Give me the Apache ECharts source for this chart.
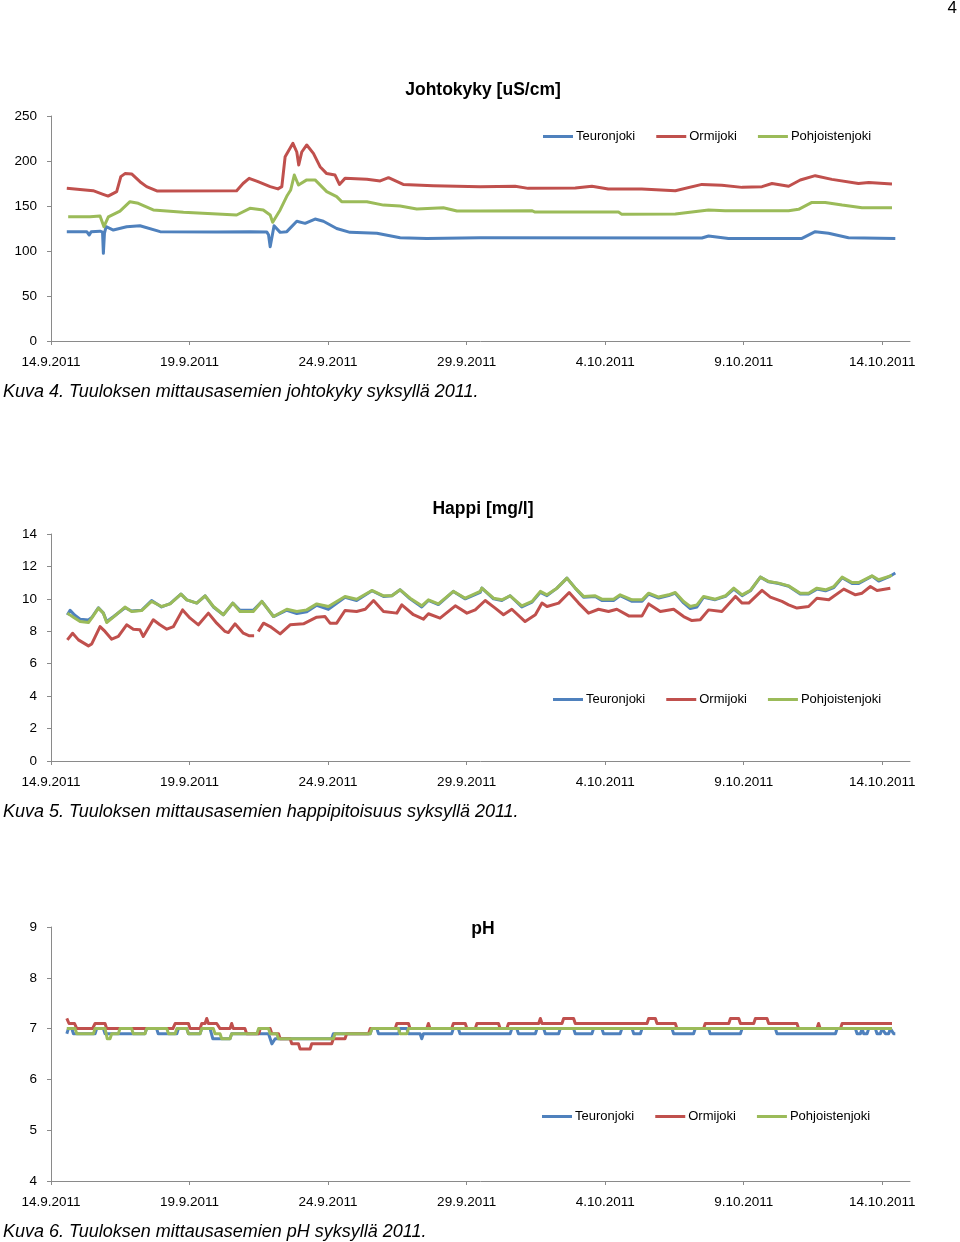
<!DOCTYPE html>
<html>
<head>
<meta charset="utf-8">
<script src="https://cdn.jsdelivr.net/npm/echarts@6/dist/echarts.min.js"></script>
<style>
html,body{margin:0;padding:0;background:#fff;}
#c{width:960px;height:1242px;}
</style>
</head>
<body>
<div id="c"></div>
<script>
// ---- Data (x = days since 14.9.2011 00:00) ----
const tickDays = [0, 5, 10, 15, 20, 25, 30];
const tickLabels = ['14.9.2011', '19.9.2011', '24.9.2011', '29.9.2011', '4.10.2011', '9.10.2011', '14.10.2011'];
const seriesNames = ['Teuronjoki', 'Ormijoki', 'Pohjoistenjoki'];
const titles = ['Johtokyky [uS/cm]', 'Happi [mg/l]', 'pH'];
const captions = [
  'Kuva 4. Tuuloksen mittausasemien johtokyky syksyllä 2011.',
  'Kuva 5. Tuuloksen mittausasemien happipitoisuus syksyllä 2011.',
  'Kuva 6. Tuuloksen mittausasemien pH syksyllä 2011.'
];

// Johtokyky [uS/cm]
const condTeuronjoki = [[0.57,121.5],[1.29,121.5],[1.38,117.8],[1.45,121.5],[1.77,122],[1.86,121],[1.89,97.4],[1.93,120],[1.99,127],[2.25,123.3],[2.73,127],[3.21,128],[3.94,121.5],[5.98,121],[7.18,121.5],[7.79,121],[7.85,118],[7.91,104.8],[8.05,128],[8.27,120.7],[8.51,121.5],[8.87,133],[9.17,130.7],[9.53,135.5],[9.83,133],[10.31,125],[10.79,120.7],[11.76,119.7],[12.60,114.8],[13.56,114],[15.49,114.8],[23.49,114.5],[23.73,116.7],[24.45,114],[27.10,114],[27.58,121.5],[28.06,119.7],[28.78,114.8],[30.47,114]];
const condOrmijoki = [[0.57,169.7],[1.52,167],[1.88,163],[2.06,161],[2.37,166],[2.52,182.6],[2.67,186],[2.91,185.6],[3.21,177],[3.45,171.5],[3.82,166.7],[6.70,167],[6.93,175],[7.15,180.7],[7.47,177],[7.91,171.5],[8.19,169],[8.33,171.5],[8.45,204.8],[8.73,219.6],[8.87,210],[8.94,195.6],[9.05,210],[9.23,217.8],[9.47,208.5],[9.71,193.7],[9.95,186],[10.25,184.4],[10.41,174],[10.61,180.7],[11.40,179.6],[11.88,177.8],[12.18,181.5],[12.71,174],[13.79,172.6],[15.49,171.5],[16.75,172],[17.22,169.6],[18.92,170],[19.52,172],[20.11,169],[21.32,169],[22.53,167],[23.49,174],[24.21,173],[24.94,170.7],[25.66,171.5],[26.02,175],[26.62,172],[27.04,178.9],[27.58,183.7],[28.18,179.6],[29.14,175],[29.51,176],[30.35,174.4]];
const condPohjoistenjoki = [[0.62,138],[1.41,138],[1.77,139],[1.91,127],[2.07,138],[2.49,144.4],[2.85,154.8],[3.15,153],[3.69,145.6],[4.78,143],[6.70,140],[7.18,147.4],[7.66,145.6],[7.91,140],[8.00,131.9],[8.27,145.6],[8.53,162],[8.65,167.8],[8.78,184.4],[8.93,173.3],[9.23,179],[9.53,179],[9.95,166],[10.31,160.4],[10.49,154.8],[11.40,154.8],[12.00,151],[12.60,150],[13.20,146.7],[14.16,148],[14.65,144.4],[15.49,144.4],[17.35,144.8],[17.47,143.3],[20.48,143.3],[20.60,140.7],[22.53,141],[23.73,145.6],[24.33,144.8],[26.62,144.8],[26.98,146.3],[27.46,154],[27.94,154],[28.55,151],[29.27,148],[30.35,148]];

// Happi [mg/l]
const o2Teuronjoki = [[0.59,9.0],[0.69,9.3],[0.85,9.0],[1.05,8.75],[1.35,8.7],[1.47,8.85],[1.71,9.45],[1.89,9.12],[2.01,8.6],[2.25,8.9],[2.67,9.45],[2.91,9.25],[3.27,9.3],[3.63,9.9],[3.99,9.5],[4.30,9.7],[4.69,10.29],[4.90,9.94],[5.26,9.74],[5.56,10.19],[5.86,9.5],[6.22,9.02],[6.56,9.74],[6.82,9.3],[7.30,9.3],[7.61,9.84],[8.03,8.91],[8.51,9.3],[8.87,9.1],[9.23,9.2],[9.59,9.6],[10.01,9.35],[10.61,10.1],[11.03,9.9],[11.58,10.5],[12.00,10.15],[12.30,10.19],[12.60,10.56],[12.96,10.0],[13.38,9.5],[13.62,9.9],[13.98,9.65],[14.52,10.46],[14.95,10.0],[15.49,10.4],[15.55,10.66],[15.97,10.0],[16.27,9.9],[16.57,10.19],[16.99,9.5],[17.36,9.8],[17.66,10.4],[17.90,10.2],[18.26,10.66],[18.62,11.28],[18.92,10.66],[19.22,10.1],[19.64,10.15],[19.88,9.9],[20.30,9.9],[20.54,10.2],[20.97,9.85],[21.33,9.85],[21.57,10.3],[21.93,10.05],[22.29,10.2],[22.53,10.35],[22.83,9.75],[23.07,9.4],[23.31,9.5],[23.55,10.1],[23.97,9.95],[24.34,10.15],[24.64,10.6],[24.94,10.2],[25.24,10.5],[25.60,11.34],[25.90,11.05],[26.26,10.95],[26.62,10.78],[27.04,10.3],[27.34,10.3],[27.64,10.6],[27.95,10.5],[28.25,10.7],[28.55,11.3],[28.91,10.95],[29.15,10.95],[29.63,11.4],[29.87,11.1],[30.23,11.35],[30.47,11.59]];
const o2Ormijoki = [[0.59,7.47],[0.78,7.88],[0.99,7.47],[1.35,7.10],[1.47,7.22],[1.77,8.29],[1.95,7.99],[2.19,7.51],[2.43,7.68],[2.73,8.40],[2.97,8.13],[3.21,8.09],[3.33,7.68],[3.69,8.71],[3.93,8.40],[4.18,8.13],[4.42,8.29],[4.75,9.32],[5.02,8.81],[5.32,8.40],[5.68,9.12],[5.98,8.50],[6.28,7.99],[6.40,7.92],[6.64,8.46],[6.94,7.88],[7.16,7.72],[7.33,7.72],[7.40,'-'],[7.48,7.99],[7.67,8.50],[7.91,8.29],[8.27,7.84],[8.63,8.40],[9.11,8.46],[9.59,8.87],[9.89,8.91],[10.07,8.50],[10.31,8.50],[10.61,9.28],[11.03,9.22],[11.34,9.36],[11.64,9.90],[12.00,9.22],[12.48,9.12],[12.66,9.63],[13.08,9.02],[13.44,8.75],[13.62,9.08],[14.04,8.81],[14.59,9.57],[15.01,9.12],[15.31,9.32],[15.67,9.90],[16.03,9.43],[16.33,9.02],[16.63,9.36],[17.11,8.60],[17.48,9.02],[17.72,9.74],[17.90,9.53],[18.32,9.74],[18.70,10.39],[19.04,9.74],[19.40,9.12],[19.76,9.36],[20.12,9.22],[20.42,9.36],[20.85,8.95],[21.33,8.95],[21.57,9.69],[21.99,9.22],[22.47,9.36],[22.83,8.91],[23.13,8.66],[23.43,8.71],[23.73,9.32],[24.21,9.22],[24.70,10.15],[24.94,9.74],[25.18,9.74],[25.66,10.52],[25.96,10.11],[26.38,9.84],[26.62,9.63],[26.92,9.43],[27.34,9.53],[27.64,10.04],[28.07,9.94],[28.61,10.60],[29.03,10.25],[29.27,10.35],[29.57,10.76],[29.81,10.52],[30.29,10.66]];
const o2Pohjoistenjoki = [[0.59,9.12],[0.81,8.87],[1.05,8.60],[1.35,8.54],[1.47,8.81],[1.71,9.43],[1.89,9.12],[2.01,8.54],[2.25,8.87],[2.67,9.49],[2.91,9.22],[3.27,9.28],[3.63,9.84],[3.99,9.53],[4.30,9.69],[4.69,10.29],[4.90,9.94],[5.26,9.74],[5.56,10.19],[5.86,9.53],[6.22,9.02],[6.56,9.74],[6.82,9.22],[7.30,9.22],[7.61,9.84],[8.03,8.91],[8.51,9.36],[8.87,9.22],[9.23,9.32],[9.59,9.69],[10.01,9.53],[10.61,10.15],[11.03,9.98],[11.58,10.52],[12.00,10.19],[12.30,10.19],[12.60,10.56],[12.96,10.04],[13.38,9.57],[13.62,9.94],[13.98,9.69],[14.52,10.46],[14.95,10.04],[15.49,10.46],[15.55,10.66],[15.97,10.04],[16.27,9.94],[16.57,10.19],[16.99,9.57],[17.36,9.84],[17.66,10.46],[17.90,10.25],[18.26,10.66],[18.62,11.28],[18.92,10.66],[19.22,10.15],[19.64,10.19],[19.88,9.98],[20.30,9.98],[20.54,10.25],[20.97,9.94],[21.33,9.94],[21.57,10.35],[21.93,10.11],[22.29,10.25],[22.53,10.39],[22.83,9.84],[23.07,9.53],[23.31,9.63],[23.55,10.15],[23.97,9.98],[24.34,10.19],[24.64,10.66],[24.94,10.25],[25.24,10.52],[25.60,11.34],[25.90,11.07],[26.26,10.97],[26.62,10.80],[27.04,10.35],[27.34,10.35],[27.64,10.66],[27.95,10.56],[28.25,10.76],[28.55,11.34],[28.91,11.01],[29.15,11.01],[29.63,11.42],[29.87,11.18],[30.35,11.45]];

// pH
const phTeuronjoki = [[0.57,6.9],[0.63,7.0],[0.75,7.0],[0.81,6.9],[1.59,6.9],[1.65,7.0],[1.89,7.0],[1.95,6.9],[3.39,6.9],[3.45,7.0],[3.81,7.0],[3.87,6.9],[4.54,6.9],[4.60,7.0],[4.90,7.0],[4.96,6.9],[5.38,6.9],[5.44,7.0],[5.74,7.0],[5.84,6.8],[6.46,6.8],[6.52,6.9],[7.85,6.9],[7.97,6.7],[8.09,6.8],[10.13,6.8],[10.19,6.9],[11.52,6.9],[11.58,7.0],[11.76,7.0],[11.82,6.9],[12.54,6.9],[12.60,7.0],[12.84,7.0],[12.90,6.9],[13.32,6.9],[13.38,6.8],[13.44,6.9],[14.46,6.9],[14.52,7.0],[14.70,7.0],[14.76,6.9],[16.57,6.9],[16.63,7.0],[16.81,7.0],[16.87,6.9],[17.48,6.9],[17.54,7.0],[17.78,7.0],[17.84,6.9],[18.32,6.9],[18.38,7.0],[18.86,7.0],[18.92,6.9],[19.52,6.9],[19.58,7.0],[19.88,7.0],[19.94,6.9],[20.54,6.9],[20.60,7.0],[20.97,7.0],[21.03,6.9],[21.27,6.9],[21.33,7.0],[22.41,7.0],[22.47,6.9],[23.19,6.9],[23.25,7.0],[23.73,7.0],[23.79,6.9],[24.88,6.9],[24.94,7.0],[26.14,7.0],[26.20,6.9],[28.31,6.9],[28.37,7.0],[29.03,7.0],[29.09,6.9],[29.21,6.9],[29.27,7.0],[29.33,6.9],[29.45,6.9],[29.51,7.0],[29.75,7.0],[29.81,6.9],[29.93,6.9],[29.99,7.0],[30.11,6.9],[30.23,6.9],[30.29,7.0],[30.41,6.9],[30.47,6.9]];
const phOrmijoki = [[0.57,7.2],[0.65,7.1],[0.85,7.1],[0.93,7.0],[1.50,7.0],[1.59,7.1],[1.95,7.1],[2.01,7.0],[4.40,7.0],[4.48,7.1],[4.96,7.1],[5.02,7.0],[5.38,7.0],[5.44,7.1],[5.56,7.1],[5.62,7.2],[5.68,7.1],[5.98,7.1],[6.10,7.0],[6.46,7.0],[6.52,7.1],[6.58,7.0],[7.00,7.0],[7.06,6.9],[7.50,6.9],[7.55,7.0],[7.91,7.0],[7.97,6.9],[8.21,6.9],[8.27,6.8],[8.63,6.8],[8.69,6.7],[8.93,6.7],[8.99,6.6],[9.35,6.6],[9.41,6.7],[10.13,6.7],[10.19,6.8],[10.61,6.8],[10.67,6.9],[11.46,6.9],[11.52,7.0],[12.42,7.0],[12.48,7.1],[12.90,7.1],[12.96,7.0],[13.56,7.0],[13.62,7.1],[13.68,7.0],[14.46,7.0],[14.52,7.1],[14.95,7.1],[15.01,7.0],[15.31,7.0],[15.37,7.1],[16.15,7.1],[16.21,7.0],[16.45,7.0],[16.51,7.1],[17.60,7.1],[17.66,7.2],[17.72,7.1],[18.44,7.1],[18.50,7.2],[18.86,7.2],[18.92,7.1],[21.51,7.1],[21.57,7.2],[21.81,7.2],[21.87,7.1],[22.53,7.1],[22.59,7.0],[23.55,7.0],[23.61,7.1],[24.46,7.1],[24.52,7.2],[24.82,7.2],[24.88,7.1],[25.36,7.1],[25.42,7.2],[25.84,7.2],[25.90,7.1],[26.92,7.1],[26.98,7.0],[27.64,7.0],[27.70,7.1],[27.76,7.0],[28.49,7.0],[28.55,7.1],[30.35,7.1]];
const phPohjoistenjoki = [[0.57,7.0],[0.87,7.0],[0.93,6.9],[1.53,6.9],[1.59,7.0],[1.95,7.0],[2.03,6.8],[2.13,6.8],[2.19,6.9],[2.43,6.9],[2.49,7.0],[2.91,7.0],[2.97,6.9],[3.39,6.9],[3.45,7.0],[4.18,7.0],[4.24,6.9],[4.48,6.9],[4.54,7.0],[4.90,7.0],[4.96,6.9],[5.38,6.9],[5.44,7.0],[5.86,7.0],[5.92,6.9],[6.10,6.9],[6.16,6.8],[6.46,6.8],[6.52,6.9],[7.43,6.9],[7.49,7.0],[7.85,7.0],[7.91,6.9],[8.15,6.9],[8.21,6.8],[10.19,6.8],[10.25,6.9],[11.52,6.9],[11.58,7.0],[12.54,7.0],[12.60,6.9],[12.84,6.9],[12.90,7.0],[30.35,7.0]];

const seriesColors = ['#4F81BD', '#C0504D', '#9BBB59'];

// ---- Chart ----
const FONT = '"Liberation Sans", Arial, sans-serif';
const chart = echarts.init(document.getElementById('c'), null, {renderer: 'canvas'});

const gridsPx = [
  {left: 51, top: 116, width: 859, height: 225},
  {left: 51, top: 534, width: 859, height: 227},
  {left: 51, top: 927, width: 859, height: 254}
];
const yRanges = [[0, 250, 50], [0, 14, 2], [4, 9, 1]];
const legendPos = [{left: 543, top: 130}, {left: 553, top: 693}, {left: 542, top: 1110}];
const titleY = [81, 500, 920];
const captionY = [391, 811, 1231];
const data = [
  [condTeuronjoki, condOrmijoki, condPohjoistenjoki],
  [o2Teuronjoki, o2Ormijoki, o2Pohjoistenjoki],
  [phTeuronjoki, phOrmijoki, phPohjoistenjoki]
];
const axisColor = '#8a8a8a';

const option = {
  animation: false,
  backgroundColor: '#fff',
  title: titles.map((t, i) => ({
    text: t, left: 483, top: titleY[i], textAlign: 'center', padding: 0,
    textStyle: {fontFamily: FONT, fontSize: 17.5, fontWeight: 'bold', color: '#000'}
  })),
  legend: legendPos.map(p => ({
    data: seriesNames, left: p.left, top: p.top, padding: 0, itemGap: 21,
    icon: 'rect', itemWidth: 30, itemHeight: 3,
    textStyle: {fontFamily: FONT, fontSize: 13, color: '#000', padding: [0, 0, 0, -2]},
    selectedMode: false
  })),
  grid: gridsPx.map(g => ({...g, containLabel: false})),
  xAxis: gridsPx.map((g, i) => ({
    type: 'value', gridIndex: i, min: 0, max: 31, interval: 5,
    axisLine: {show: true, onZero: false, lineStyle: {color: axisColor, width: 1}},
    axisTick: {show: true, length: 4, customValues: tickDays, lineStyle: {color: axisColor}},
    axisLabel: {customValues: tickDays, formatter: v => tickLabels[tickDays.indexOf(v)] || '',
      fontFamily: FONT, fontSize: 13.5, color: '#000', margin: 14},
    splitLine: {show: false}
  })),
  yAxis: gridsPx.map((g, i) => ({
    type: 'value', gridIndex: i, min: yRanges[i][0], max: yRanges[i][1], interval: yRanges[i][2],
    axisLine: {show: true, lineStyle: {color: axisColor, width: 1}},
    axisTick: {show: true, length: 4, lineStyle: {color: axisColor}},
    axisLabel: {fontFamily: FONT, fontSize: 13.5, color: '#000', margin: 14},
    splitLine: {show: false}
  })),
  series: [],
  graphic: [
    {type: 'text', right: 3, top: 0, style: {text: '4', font: '17px ' + FONT, fill: '#000'}},
    ...captions.map((c, i) => ({
      type: 'text', left: 3, top: captionY[i] - 8,
      style: {text: c, font: 'italic 18px ' + FONT, fill: '#000'}
    }))
  ]
};

data.forEach((grp, gi) => {
  grp.forEach((d, si) => {
    option.series.push({
      type: 'line', name: seriesNames[si], xAxisIndex: gi, yAxisIndex: gi,
      data: d, showSymbol: false, symbol: 'none', connectNulls: false,
      lineStyle: {width: 3, color: seriesColors[si], join: 'round'},
      itemStyle: {color: seriesColors[si]},
      z: 2 + si
    });
  });
});

chart.setOption(option);
</script>
</body>
</html>
